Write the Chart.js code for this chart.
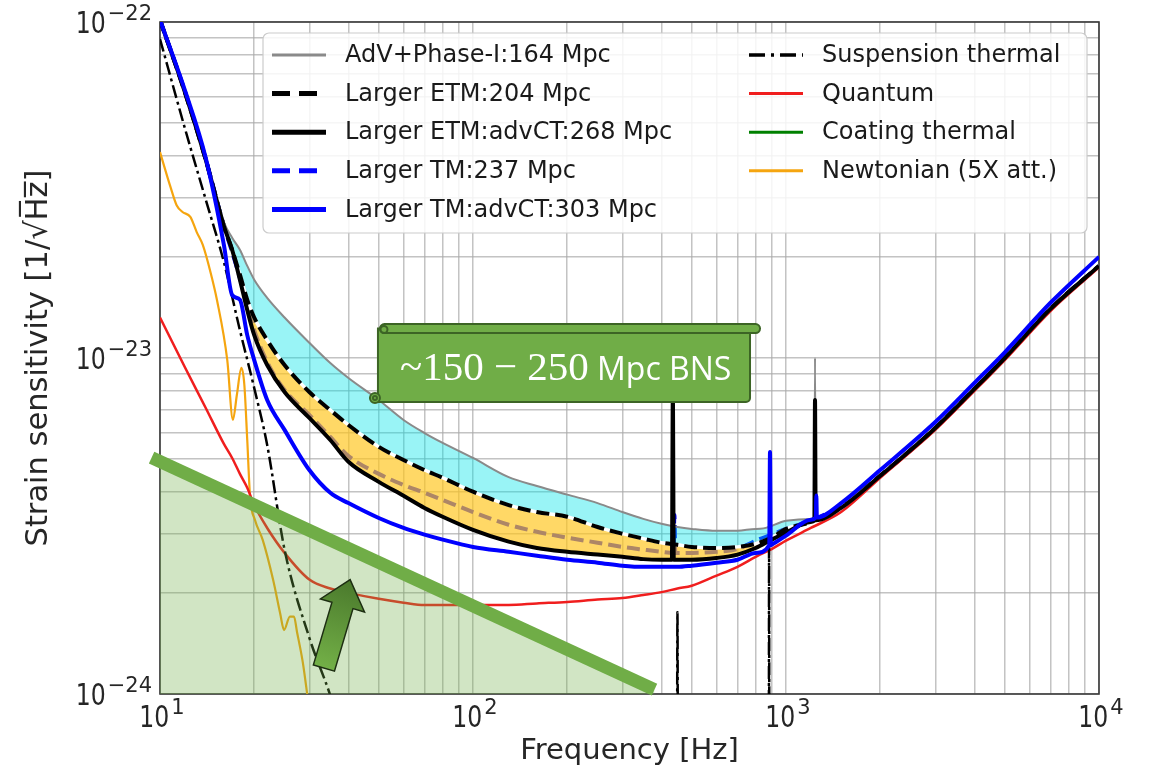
<!DOCTYPE html>
<html>
<head>
<meta charset="utf-8">
<title>Strain sensitivity</title>
<script src="https://cdn.jsdelivr.net/npm/chart.js@4.4.1/dist/chart.umd.min.js"></script>
<style>
  html, body { margin: 0; padding: 0; background: #ffffff; }
  #wrap { width: 1149px; height: 772px; position: relative; }
</style>
</head>
<body>
<div id="wrap"><canvas id="c" width="1149" height="772"></canvas></div>
<script>
// ---- frequency grid shared by the detector curves [Hz] ----
const freqHz = [10, 12, 14, 16, 17, 18, 19, 20, 22, 25, 30, 35, 40, 50, 60, 70, 80, 100, 130, 160,
                200, 250, 300, 350, 400, 450, 500, 600, 700, 800, 900, 1000, 1200, 1500, 2000, 3000,
                4000, 5000, 7000, 10000];

// ---- strain sensitivity of each configuration [1/sqrt(Hz)] ----
const advPhase1 = [1.03e-22, 6.28e-23, 3.94e-23, 2.54e-23, 2.28e-23, 2.10e-23, 1.88e-23, 1.71e-23,
                   1.51e-23, 1.32e-23, 1.11e-23, 9.66e-24, 8.72e-24, 7.50e-24, 6.54e-24, 5.98e-24,
                   5.59e-24, 5.04e-24, 4.42e-24, 4.16e-24, 3.92e-24, 3.70e-24, 3.48e-24, 3.32e-24,
                   3.21e-24, 3.14e-24, 3.10e-24, 3.06e-24, 3.06e-24, 3.10e-24, 3.16e-24, 3.28e-24,
                   3.32e-24, 3.68e-24, 4.46e-24, 6.19e-24, 8.09e-24, 1.00e-23, 1.40e-23, 1.88e-23];
const largerEtm = [1.014e-22, 6.19e-23, 3.89e-23, 2.47e-23, 2.10e-23, 1.77e-23, 1.49e-23, 1.32e-23,
                   1.13e-23, 9.53e-24, 7.92e-24, 7.00e-24, 6.32e-24, 5.44e-24, 4.97e-24, 4.64e-24,
                   4.40e-24, 4.00e-24, 3.65e-24, 3.48e-24, 3.37e-24, 3.14e-24, 3.00e-24, 2.90e-24,
                   2.82e-24, 2.78e-24, 2.74e-24, 2.72e-24, 2.74e-24, 2.80e-24, 2.92e-24, 3.10e-24,
                   3.25e-24, 3.63e-24, 4.46e-24, 6.19e-24, 8.09e-24, 1.00e-23, 1.40e-23, 1.88e-23];
const largerEtmAdvCT = [1.014e-22, 6.19e-23, 3.89e-23, 2.47e-23, 2.10e-23, 1.71e-23, 1.39e-23, 1.17e-23,
                   9.53e-24, 7.92e-24, 6.63e-24, 5.70e-24, 4.91e-24, 4.28e-24, 3.89e-24, 3.58e-24,
                   3.37e-24, 3.08e-24, 2.84e-24, 2.72e-24, 2.65e-24, 2.60e-24, 2.56e-24, 2.52e-24,
                   2.51e-24, 2.51e-24, 2.51e-24, 2.54e-24, 2.60e-24, 2.72e-24, 2.88e-24, 3.02e-24,
                   3.25e-24, 3.58e-24, 4.46e-24, 6.19e-24, 8.09e-24, 1.00e-23, 1.40e-23, 1.88e-23];
const largerTm = [1.014e-22, 6.23e-23, 3.91e-23, 2.47e-23, 2.07e-23, 1.73e-23, 1.44e-23, 1.21e-23,
                   9.73e-24, 8.03e-24, 6.77e-24, 5.82e-24, 5.11e-24, 4.52e-24, 4.19e-24, 3.97e-24,
                   3.78e-24, 3.48e-24, 3.19e-24, 3.04e-24, 2.92e-24, 2.82e-24, 2.74e-24, 2.69e-24,
                   2.65e-24, 2.63e-24, 2.63e-24, 2.65e-24, 2.70e-24, 2.86e-24, 2.98e-24, 3.10e-24,
                   3.28e-24, 3.63e-24, 4.46e-24, 6.19e-24, 8.09e-24, 1.00e-23, 1.40e-23, 1.88e-23];
const largerTmAdvCT = [1.014e-22, 6.28e-23, 3.94e-23, 2.17e-23, 1.54e-23, 1.49e-23, 1.17e-23, 9.86e-24,
                   7.50e-24, 6.11e-24, 4.64e-24, 3.97e-24, 3.70e-24, 3.34e-24, 3.12e-24, 2.98e-24,
                   2.88e-24, 2.74e-24, 2.65e-24, 2.58e-24, 2.51e-24, 2.46e-24, 2.41e-24, 2.39e-24,
                   2.39e-24, 2.39e-24, 2.41e-24, 2.46e-24, 2.51e-24, 2.63e-24, 2.78e-24, 2.96e-24,
                   3.30e-24, 3.70e-24, 4.64e-24, 6.45e-24, 8.43e-24, 1.04e-23, 1.46e-23, 2.00e-23];
const quantum = [1.32e-23, 9.40e-24, 7.10e-24, 5.55e-24, 5.04e-24, 4.52e-24, 4.11e-24, 3.65e-24,
                   3.12e-24, 2.63e-24, 2.19e-24, 2.06e-24, 2.00e-24, 1.92e-24, 1.87e-24, 1.84e-24,
                   1.84e-24, 1.84e-24, 1.84e-24, 1.86e-24, 1.88e-24, 1.91e-24, 1.93e-24, 1.97e-24,
                   2.01e-24, 2.06e-24, 2.10e-24, 2.25e-24, 2.39e-24, 2.56e-24, 2.70e-24, 2.86e-24,
                   3.12e-24, 3.48e-24, 4.40e-24, 6.11e-24, 7.98e-24, 9.86e-24, 1.38e-23, 1.86e-23];

// ---- narrow mechanical resonance lines, added on top of the smooth curves ----
const advLinesHz = [884, 889, 894, 1232, 1238, 1244];
const advLinesStrain = [3.15e-24, 3.6e-24, 3.15e-24, 3.36e-24, 1.0e-23, 3.36e-24];
const etmAdvCTLinesHz = [432, 435, 438, 1232, 1238, 1244];
const etmAdvCTLinesStrain = [2.51e-24, 7.8e-24, 2.51e-24, 3.29e-24, 7.5e-24, 3.29e-24];
const tmLinesHz = [437, 440, 443];
const tmLinesStrain = [2.63e-24, 3.41e-24, 2.63e-24];
const tmAdvCTLinesHz = [884, 889, 894, 1245, 1250, 1255];
const tmAdvCTLinesStrain = [2.77e-24, 5.25e-24, 2.77e-24, 3.35e-24, 3.9e-24, 3.35e-24];

// ---- suspension thermal noise (violin modes near 450 Hz and 885 Hz) ----
const suspensionHz = [10, 12, 14, 16, 18, 20, 22, 25, 30, 35, 40, 50, 70, 100, 200, 300, 445, 450, 455,
                      600, 878, 883, 888, 1000, 3000, 10000];
const suspensionStrain = [8.9e-23, 4.84e-23, 2.96e-23, 1.93e-23, 1.21e-23, 8.14e-24, 5.51e-24, 2.69e-24,
                      1.47e-24, 9.9e-25, 6.5e-25, 3.3e-25, 1.2e-25, 4.5e-26, 8e-27, 3e-27, 1.2e-27,
                      1.75e-24, 1.2e-27, 6e-28, 2.5e-28, 2.9e-24, 2.5e-28, 2e-28, 2e-29, 1e-30];

// ---- Newtonian noise, 5x attenuated ----
const newtonianHz = [10, 10.8, 11.3, 11.8, 12.5, 13.1, 13.7, 14.5, 15.2, 16.4, 17.1, 17.6, 18.2, 18.6,
                     19.0, 19.4, 20.1, 21.3, 23.0, 24.2, 24.9, 26.0, 26.8, 27.4, 28.6, 29.7];
const newtonianStrain = [4.10e-23, 3.23e-23, 2.85e-23, 2.72e-23, 2.63e-23, 2.37e-23, 2.17e-23, 1.80e-23,
                     1.49e-23, 9.87e-24, 6.54e-24, 7.76e-24, 9.34e-24, 8.31e-24, 5.70e-24, 3.86e-24,
                     3.30e-24, 2.87e-24, 2.18e-24, 1.74e-24, 1.55e-24, 1.70e-24, 1.70e-24, 1.53e-24,
                     1.24e-24, 9.6e-25];

// coating thermal noise lies below the plotted range
const coatingHz = [];
const coatingStrain = [];

// ---- BNS reach guide line ----
const bnsGuideHz = [9.4, 380];
const bnsGuideStrain = [5.05e-24, 1.03e-24];
const bnsArrowHz = [33.4, 40.5];        // tail, tip
const bnsArrowStrain = [1.195e-24, 2.19e-24];
const bnsNoteText = ['~150 \u2212 250', ' Mpc BNS'];
const bnsNoteHz = [49.7, 826];          // left, right edge of the note
const bnsNoteStrain = [1.262e-23, 7.40e-24]; // top, bottom edge of the note

// ---- axis ticks ----
const xDecades = [10, 100, 1000, 10000];
const xDecadeExponents = ['1', '2', '3', '4'];
const yDecades = [1e-24, 1e-23, 1e-22];
const yDecadeExponents = ['\u221224', '\u221223', '\u221222'];
const minorSteps = [2, 3, 4, 5, 6, 7, 8, 9];

function points(hz, strain, extraHz = [], extraStrain = []) {
  const pts = hz.map((f, i) => ({ x: f, y: strain[i] }));
  extraHz.forEach((f, i) => pts.push({ x: f, y: extraStrain[i] }));
  return pts.sort((a, b) => a.x - b.x);
}

function logTicks(decades) {
  const out = [];
  decades.forEach((d, i) => {
    out.push({ value: d });
    if (i < decades.length - 1) minorSteps.forEach(m => out.push({ value: m * d }));
  });
  return out;
}

const FONT = '"DejaVu Sans", "Liberation Sans", sans-serif';
const TEXT = '#262626';

const curve = { pointRadius: 0, pointHoverRadius: 0, fill: false, tension: 0,
                cubicInterpolationMode: 'monotone', borderJoinStyle: 'round' };

const datasets = [
  { ...curve, label: 'AdV+Phase-I:164 Mpc', data: points(freqHz, advPhase1, advLinesHz, advLinesStrain),
    borderColor: '#8a8a8a', borderWidth: 2, order: 5, keyWidth: 3 },
  { ...curve, label: 'Larger ETM:204 Mpc', data: points(freqHz, largerEtm),
    borderColor: '#000000', borderWidth: 4, borderDash: [13, 6], order: 6, keyWidth: 5, keyDash: [18, 9] },
  { ...curve, label: 'Larger ETM:advCT:268 Mpc', data: points(freqHz, largerEtmAdvCT, etmAdvCTLinesHz, etmAdvCTLinesStrain),
    borderColor: '#000000', borderWidth: 4, order: 3, keyWidth: 5 },
  { ...curve, label: 'Larger TM:237 Mpc', data: points(freqHz, largerTm, tmLinesHz, tmLinesStrain),
    borderColor: '#0000ff', borderWidth: 4, borderDash: [13, 6], order: 10, keyWidth: 5, keyDash: [18, 9] },
  { ...curve, label: 'Larger TM:advCT:303 Mpc', data: points(freqHz, largerTmAdvCT, tmAdvCTLinesHz, tmAdvCTLinesStrain),
    borderColor: '#0000ff', borderWidth: 4, order: 2, keyWidth: 5 },
  { ...curve, label: 'Suspension thermal', data: points(suspensionHz, suspensionStrain),
    borderColor: '#000000', borderWidth: 2.5, borderDash: [13, 4, 3, 4], order: 4, keyWidth: 3.5, keyDash: [16, 6, 3, 6] },
  { ...curve, label: 'Quantum', data: points(freqHz, quantum),
    borderColor: '#f01e1e', borderWidth: 2.5, order: 4, keyWidth: 3 },
  { ...curve, label: 'Coating thermal', data: points(coatingHz, coatingStrain),
    borderColor: '#008000', borderWidth: 2.5, order: 4, keyWidth: 3 },
  { ...curve, label: 'Newtonian (5X att.)', data: points(newtonianHz, newtonianStrain),
    borderColor: '#f5a50f', borderWidth: 2.2, order: 4, keyWidth: 3 },
  // band between AdV+Phase-I and Larger ETM
  { ...curve, label: '', noKey: true, data: points(freqHz, advPhase1), borderWidth: 0, borderColor: 'rgba(0,0,0,0)',
    fill: { target: 1, above: 'rgba(0,228,232,0.40)', below: 'rgba(0,228,232,0.40)' }, order: 8 },
  // band between Larger ETM and Larger ETM:advCT
  { ...curve, label: '', noKey: true, data: points(freqHz, largerEtm), borderWidth: 0, borderColor: 'rgba(0,0,0,0)',
    fill: { target: 2, above: 'rgba(255,198,30,0.68)', below: 'rgba(255,198,30,0.68)' }, order: 9 },
  // white backing under the dashed Larger ETM curve
  { ...curve, label: '', noKey: true, data: points(freqHz, largerEtm), borderColor: '#ffffff', borderWidth: 3.4, order: 7 },
  // BNS guide line with the shaded region beneath it
  { label: '', noKey: true, data: points(bnsGuideHz, bnsGuideStrain), borderColor: '#70ad47', borderWidth: 13,
    pointRadius: 0, tension: 0, fill: 'start', backgroundColor: 'rgba(112,173,71,0.32)', order: 1, clip: false,
    borderCapStyle: 'butt' }
];

const framePlugin = {
  id: 'frame',
  beforeDatasetsDraw(chart) {
    const { ctx, chartArea: a } = chart;
    ctx.save();
    ctx.strokeStyle = '#3a3a3a';
    ctx.lineWidth = 1.6;
    ctx.strokeRect(a.left, a.top, a.right - a.left, a.bottom - a.top);
    ctx.restore();
  }
};

// decade labels written as 10 with a raised exponent
function drawPower(ctx, anchorX, baseY, exponent, align) {
  ctx.save();
  ctx.fillStyle = TEXT;
  ctx.textBaseline = 'alphabetic';
  ctx.textAlign = 'left';
  const squeeze = 0.76;
  ctx.font = '31px ' + FONT;
  const wb = ctx.measureText('10').width * squeeze;
  ctx.font = '21px ' + FONT;
  const we = ctx.measureText(exponent).width;
  const total = wb + 2 + we;
  const start = align === 'right' ? anchorX - total : anchorX - total / 2;
  ctx.save();
  ctx.translate(start, baseY);
  ctx.scale(squeeze, 1);
  ctx.font = '31px ' + FONT;
  ctx.fillText('10', 0, 0);
  ctx.restore();
  ctx.font = '21px ' + FONT;
  ctx.fillText(exponent, start + wb + 2, baseY - 13);
  ctx.restore();
}

const powerLabelPlugin = {
  id: 'powerLabels',
  afterDraw(chart) {
    const { ctx, chartArea: a } = chart;
    const xs = chart.scales.x, ys = chart.scales.y;
    xDecades.forEach((v, i) => drawPower(ctx, xs.getPixelForValue(v) + 2, a.bottom + 33, xDecadeExponents[i], 'center'));
    yDecades.forEach((v, i) => drawPower(ctx, a.left - 8, ys.getPixelForValue(v) + 11, yDecadeExponents[i], 'right'));
  }
};

const keyPlugin = {
  id: 'curveKey',
  afterDatasetsDraw(chart) {
    const { ctx, chartArea: a } = chart;
    const ds = chart.data.datasets;
    const fx = a.left + 103, fy = a.top + 11, fw = 824, fh = 200;
    ctx.save();
    ctx.beginPath();
    ctx.roundRect(fx, fy, fw, fh, 6);
    ctx.fillStyle = 'rgba(255,255,255,0.85)';
    ctx.fill();
    ctx.strokeStyle = '#cccccc';
    ctx.lineWidth = 1.2;
    ctx.stroke();
    const keyed = ds.filter(d => !d.noKey);
    const columns = [keyed.slice(0, 5), keyed.slice(5)];
    const colX = [fx + 9, fx + 486];
    ctx.font = '24px ' + FONT;
    ctx.textBaseline = 'middle';
    columns.forEach((col, c) => {
      col.forEach((d, r) => {
        const y = fy + 22 + r * 38.6;
        ctx.beginPath();
        ctx.setLineDash(d.keyDash || []);
        ctx.lineWidth = d.keyWidth;
        ctx.strokeStyle = d.borderColor;
        ctx.lineCap = 'butt';
        ctx.moveTo(colX[c], y);
        ctx.lineTo(colX[c] + 54, y);
        ctx.stroke();
        ctx.setLineDash([]);
        ctx.fillStyle = '#1a1a1a';
        ctx.fillText(d.label, colX[c] + 73, y + 1);
      });
    });
    ctx.restore();
  }
};

const notePlugin = {
  id: 'bnsNote',
  afterDatasetsDraw(chart) {
    const { ctx } = chart;
    const xs = chart.scales.x, ys = chart.scales.y;

    // arrow pointing up toward the guide line
    const x0 = xs.getPixelForValue(bnsArrowHz[0]), y0 = ys.getPixelForValue(bnsArrowStrain[0]);
    const x1 = xs.getPixelForValue(bnsArrowHz[1]), y1 = ys.getPixelForValue(bnsArrowStrain[1]);
    const len = Math.hypot(x1 - x0, y1 - y0);
    const ux = (x1 - x0) / len, uy = (y1 - y0) / len, nx = -uy, ny = ux;
    const sw = 11, hw = 23, hl = 27;
    const bx = x1 - ux * hl, by = y1 - uy * hl;
    ctx.save();
    ctx.beginPath();
    ctx.moveTo(x0 + nx * sw, y0 + ny * sw);
    ctx.lineTo(bx + nx * sw, by + ny * sw);
    ctx.lineTo(bx + nx * hw, by + ny * hw);
    ctx.lineTo(x1, y1);
    ctx.lineTo(bx - nx * hw, by - ny * hw);
    ctx.lineTo(bx - nx * sw, by - ny * sw);
    ctx.lineTo(x0 - nx * sw, y0 - ny * sw);
    ctx.closePath();
    const g = ctx.createLinearGradient(x1, y1, x0, y0);
    g.addColorStop(0, '#4a792c');
    g.addColorStop(1, '#73b047');
    ctx.fillStyle = g;
    ctx.fill();
    ctx.strokeStyle = '#1d2e12';
    ctx.lineWidth = 1.5;
    ctx.lineJoin = 'miter';
    ctx.stroke();

    // scroll-shaped note
    const L = xs.getPixelForValue(bnsNoteHz[0]), R = xs.getPixelForValue(bnsNoteHz[1]);
    const T = ys.getPixelForValue(bnsNoteStrain[0]), B = ys.getPixelForValue(bnsNoteStrain[1]);
    const h = 9;
    ctx.fillStyle = '#70ad47';
    ctx.strokeStyle = '#3c6425';
    ctx.lineWidth = 2;
    ctx.beginPath();
    ctx.roundRect(L, T + h / 2, R - 10 - L, B - T - h / 2, [0, 0, 4, 0]);
    ctx.fill();
    ctx.stroke();
    ctx.beginPath();
    ctx.roundRect(L + 2, T, R - L - 2, h, h / 2);
    ctx.fill();
    ctx.stroke();
    ctx.beginPath();
    ctx.arc(L + 6, T + h / 2 + 1, 3.5, 0, Math.PI * 2);
    ctx.stroke();
    ctx.beginPath();
    ctx.arc(L - 3, B - 4, 5, 0, Math.PI * 2);
    ctx.fill();
    ctx.stroke();
    ctx.beginPath();
    ctx.arc(L - 3, B - 4, 2, 0, Math.PI * 2);
    ctx.stroke();

    ctx.fillStyle = '#ffffff';
    ctx.textBaseline = 'alphabetic';
    const tx = L + 22, ty = B - 22;
    ctx.font = '41px "Liberation Serif", "DejaVu Serif", serif';
    ctx.fillText(bnsNoteText[0], tx, ty);
    const w = ctx.measureText(bnsNoteText[0]).width;
    ctx.font = '32px "Open Sans", "Noto Sans", sans-serif';
    ctx.fillText(bnsNoteText[1], tx + w, ty);
    ctx.restore();
  }
};

Chart.defaults.font.family = FONT;
Chart.defaults.color = TEXT;

new Chart(document.getElementById('c'), {
  type: 'line',
  data: { datasets },
  options: {
    responsive: false,
    animation: false,
    events: [],
    devicePixelRatio: 1,
    layout: { padding: { top: 22, right: 50, left: 0, bottom: 0 } },
    plugins: { legend: { display: false }, tooltip: { enabled: false } },
    scales: {
      x: {
        type: 'logarithmic',
        min: 10, max: 10000,
        afterBuildTicks: s => { s.ticks = logTicks(xDecades); },
        afterFit: s => { s.height = 78; },
        ticks: { display: false, autoSkip: false },
        grid: { color: 'rgba(170,170,170,0.7)', lineWidth: 1.5, drawTicks: false },
        border: { display: false },
        title: { display: true, text: 'Frequency [Hz]', font: { size: 29 }, color: TEXT,
                 padding: { top: 0, bottom: 3 } }
      },
      y: {
        type: 'logarithmic',
        min: 1e-24, max: 1e-22,
        afterBuildTicks: s => { s.ticks = logTicks(yDecades); },
        afterFit: s => { s.width = 160; },
        ticks: { display: false, autoSkip: false },
        grid: { color: 'rgba(170,170,170,0.7)', lineWidth: 1.5, drawTicks: false },
        border: { display: false },
        title: { display: true, text: 'Strain sensitivity [1/\u221aH\u0305z\u0305]', font: { size: 30.5 }, color: TEXT,
                 padding: { top: 21, bottom: 0 } }
      }
    }
  },
  plugins: [framePlugin, keyPlugin, notePlugin, powerLabelPlugin]
});
</script>
</body>
</html>
